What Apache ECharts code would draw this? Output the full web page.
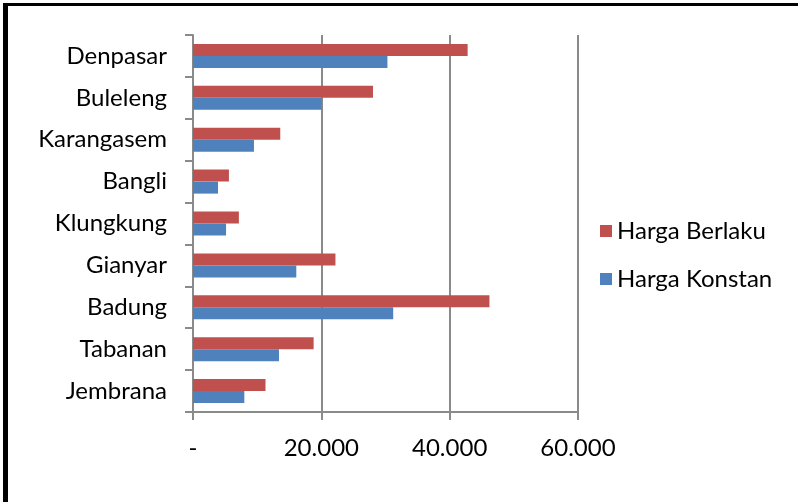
<!DOCTYPE html>
<html>
<head>
<meta charset="utf-8">
<style>
  html, body { margin: 0; padding: 0; background: #fff; }
  #chart { width: 798px; height: 502px; }
</style>
<script src="https://cdn.jsdelivr.net/npm/echarts@6/dist/echarts.min.js"></script>
</head>
<body>
<div id="chart"></div>
<script>
// Regencies of Bali, listed bottom to top along the category axis
const categories = ['Jembrana', 'Tabanan', 'Badung', 'Gianyar', 'Klungkung', 'Bangli', 'Karangasem', 'Buleleng', 'Denpasar'];
const hargaBerlaku = [11300, 18800, 46200, 22200, 7150, 5600, 13600, 28050, 42800];
const hargaKonstan = [8000, 13400, 31200, 16100, 5150, 3900, 9500, 20050, 30300];
const xTicks = [0, 20000, 40000, 60000];

const FONT = 'Lato';
const FONT_SIZE = 24;
const GRID_GRAY = '#8a8a8a';

function fmtThousands(v) {
  if (v === 0) return '-';
  return String(Math.round(v)).replace(/\B(?=(\d{3})+(?!\d))/g, '.');
}

const chart = echarts.init(document.getElementById('chart'), null, { renderer: 'canvas' });

chart.setOption({
  backgroundColor: '#ffffff',
  animation: false,
  textStyle: { fontFamily: FONT },
  grid: { left: 193, right: 220, top: 35, bottom: 90, containLabel: false },
  legend: {
    orient: 'vertical',
    left: 595,
    top: 214,
    itemWidth: 12,
    itemHeight: 12,
    itemGap: 24,
    icon: 'rect',
    data: ['Harga Berlaku', 'Harga Konstan'],
    textStyle: { fontFamily: FONT, fontSize: FONT_SIZE, color: '#000', lineHeight: 24 }
  },
  xAxis: {
    type: 'value',
    min: xTicks[0],
    max: xTicks[xTicks.length - 1],
    interval: 20000,
    axisLine: { show: true, lineStyle: { color: GRID_GRAY, width: 2 } },
    axisTick: { show: true, length: 8, lineStyle: { color: GRID_GRAY, width: 2 } },
    splitLine: { show: true, lineStyle: { color: GRID_GRAY, width: 2 } },
    axisLabel: {
      margin: 24,
      fontFamily: FONT,
      fontSize: FONT_SIZE,
      color: '#000',
      formatter: fmtThousands
    }
  },
  yAxis: {
    type: 'category',
    data: categories,
    axisLine: { show: true, lineStyle: { color: GRID_GRAY, width: 2 } },
    axisTick: { show: true, length: 8, lineStyle: { color: GRID_GRAY, width: 2 } },
    axisLabel: { margin: 26, fontFamily: FONT, fontSize: FONT_SIZE, color: '#000' }
  },
  series: [
    {
      name: 'Harga Berlaku',
      type: 'bar',
      data: hargaBerlaku,
      barWidth: 12,
      barGap: '0%',
      itemStyle: { color: '#C0504D' }
    },
    {
      name: 'Harga Konstan',
      type: 'bar',
      data: hargaKonstan,
      barWidth: 12,
      barGap: '0%',
      itemStyle: { color: '#4F81BD' }
    }
  ],
  graphic: [
    { type: 'rect', shape: { x: 3, y: 3, width: 795, height: 3 }, style: { fill: '#000' }, silent: true },
    { type: 'rect', shape: { x: 3, y: 3, width: 5, height: 499 }, style: { fill: '#000' }, silent: true }
  ]
});
</script>
</body>
</html>
